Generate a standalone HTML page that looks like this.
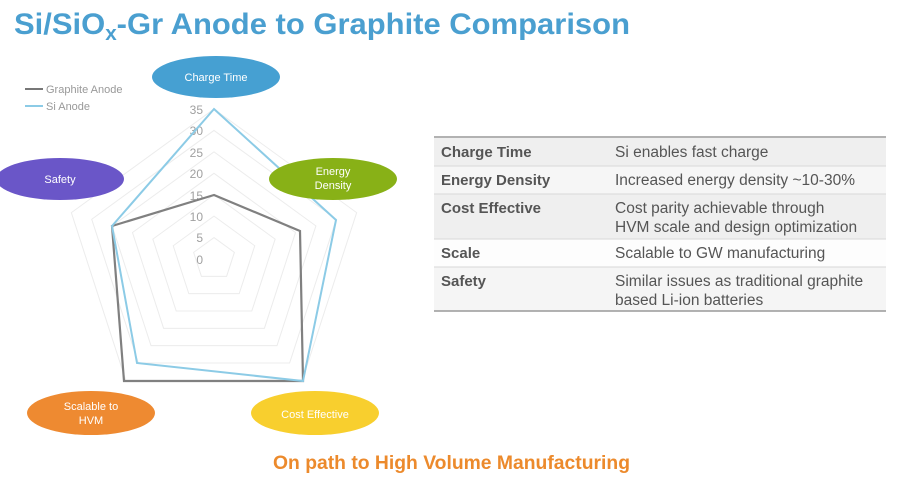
<!DOCTYPE html>
<html><head><meta charset="utf-8"><style>
html,body{margin:0;padding:0;background:#fff;width:900px;height:485px;overflow:hidden}
svg{display:block;font-family:"Liberation Sans",sans-serif}
</style></head><body>
<svg width="900" height="485" viewBox="0 0 900 485">
<text x="14" y="34" font-size="30" font-weight="bold" fill="#4a9fd0" textLength="616" lengthAdjust="spacingAndGlyphs">Si/SiO<tspan font-size="20" dy="6">x</tspan><tspan dy="-6">-Gr Anode to Graphite Comparison</tspan></text>

<g fill="none" stroke="#ececec" stroke-width="1">
<polygon points="214,237.57 234.38,252.38 226.6,276.34 201.4,276.34 193.62,252.38"/>
<polygon points="214,216.14 254.76,245.76 239.2,293.67 188.8,293.67 173.24,245.76"/>
<polygon points="214,194.71 275.14,239.13 251.8,311.01 176.2,311.01 152.86,239.13"/>
<polygon points="214,173.29 295.51,232.51 264.4,328.34 163.6,328.34 132.49,232.51"/>
<polygon points="214,151.86 315.89,225.89 277,345.68 151,345.68 112.11,225.89"/>
<polygon points="214,130.43 336.27,219.27 289.6,363.01 138.4,363.01 91.73,219.27"/>
<polygon points="214,109 356.65,212.65 302.2,380.35 125.8,380.35 71.35,212.65"/>
</g>
<g font-size="12" fill="#a0a0a0" text-anchor="end">
<text x="203" y="114">35</text><text x="203" y="135">30</text><text x="203" y="157">25</text><text x="203" y="178">20</text><text x="203" y="200">15</text><text x="203" y="221">10</text><text x="203" y="242">5</text><text x="203" y="264">0</text>
</g>
<polygon points="214,195 300,231 303,381 124,381 112,226" fill="none" stroke="#808080" stroke-width="2.2"/>
<polygon points="214,109 336,220 303,381 137,363 112,226" fill="none" stroke="#8ccbe6" stroke-width="2"/>

<line x1="25" y1="89" x2="43" y2="89" stroke="#777" stroke-width="2"/>
<line x1="25" y1="106" x2="43" y2="106" stroke="#8ccbe6" stroke-width="2"/>
<text x="46" y="93" font-size="11" fill="#999">Graphite Anode</text>
<text x="46" y="110" font-size="11" fill="#999">Si Anode</text>

<ellipse cx="216" cy="77" rx="64" ry="21" fill="#46a0d2"/>
<text x="216" y="81" font-size="11" fill="#fff" text-anchor="middle">Charge Time</text>
<ellipse cx="333" cy="179" rx="64" ry="21" fill="#88b117"/>
<text x="333" y="175" font-size="11" fill="#fff" text-anchor="middle">Energy</text>
<text x="333" y="189" font-size="11" fill="#fff" text-anchor="middle">Density</text>
<ellipse cx="60" cy="179" rx="64" ry="21" fill="#6a56c8"/>
<text x="60" y="183" font-size="11" fill="#fff" text-anchor="middle">Safety</text>
<ellipse cx="91" cy="413" rx="64" ry="22" fill="#ee8a31"/>
<text x="91" y="410" font-size="11" fill="#fff" text-anchor="middle">Scalable to</text>
<text x="91" y="424" font-size="11" fill="#fff" text-anchor="middle">HVM</text>
<ellipse cx="315" cy="413" rx="64" ry="22" fill="#f8cf2e"/>
<text x="315" y="418" font-size="11" fill="#fff" text-anchor="middle">Cost Effective</text>

<rect x="434" y="138" width="452" height="28" fill="#efefef"/>
<rect x="434" y="166" width="452" height="28" fill="#f6f6f6"/>
<rect x="434" y="194" width="452" height="45" fill="#efefef"/>
<rect x="434" y="239" width="452" height="28" fill="#fdfdfd"/>
<rect x="434" y="267" width="452" height="44" fill="#f5f5f5"/>
<g stroke="#d8d8d8" stroke-width="1">
<line x1="434" y1="166" x2="886" y2="166"/><line x1="434" y1="194" x2="886" y2="194"/>
<line x1="434" y1="239" x2="886" y2="239"/><line x1="434" y1="267" x2="886" y2="267"/>
</g>
<line x1="434" y1="137" x2="886" y2="137" stroke="#999" stroke-width="1.5"/>
<line x1="434" y1="311" x2="886" y2="311" stroke="#999" stroke-width="1.5"/>
<g font-size="15.5" fill="#555">
<g font-weight="bold" font-size="15">
<text x="441" y="157">Charge Time</text>
<text x="441" y="185">Energy Density</text>
<text x="441" y="213">Cost Effective</text>
<text x="441" y="258">Scale</text>
<text x="441" y="286">Safety</text>
</g>
<text x="615" y="157">Si enables fast charge</text>
<text x="615" y="185">Increased energy density ~10-30%</text>
<text x="615" y="213">Cost parity achievable through</text>
<text x="615" y="232">HVM scale and design optimization</text>
<text x="615" y="258">Scalable to GW manufacturing</text>
<text x="615" y="286">Similar issues as traditional graphite</text>
<text x="615" y="305">based Li-ion batteries</text>
</g>

<text x="273" y="469" font-size="19" font-weight="bold" fill="#ec8a2c" textLength="357" lengthAdjust="spacingAndGlyphs">On path to High Volume Manufacturing</text>
</svg>
</body></html>
